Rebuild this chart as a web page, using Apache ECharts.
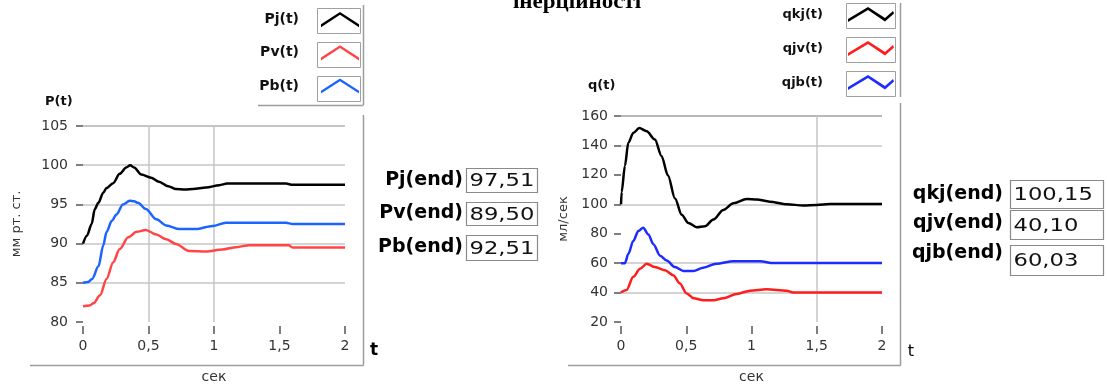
<!DOCTYPE html>
<html>
<head>
<meta charset="utf-8">
<script src="https://cdn.jsdelivr.net/npm/echarts@6/dist/echarts.min.js"></script>
<style>
  html, body { margin: 0; padding: 0; background: #fff; }
  #chart { width: 1107px; height: 389px; }
</style>
</head>
<body>
<div id="chart"></div>
<script>
// ---- Pressure traces, mm Hg (left graph) ----
const pjT = [0, 0.03, 0.066, 0.09, 0.117, 0.155, 0.18, 0.23, 0.28, 0.33, 0.36, 0.39, 0.445, 0.52, 0.58, 0.65, 0.71, 0.78, 0.84, 0.94, 1.04, 1.1, 1.55, 1.6];
const pjV = [90.0, 91.0, 92.5, 94.4, 95.2, 96.5, 97.1, 97.7, 98.9, 99.7, 100.0, 99.7, 98.8, 98.4, 97.9, 97.3, 96.95, 96.9, 96.95, 97.15, 97.45, 97.65, 97.65, 97.51];
const pvT = [0, 0.05, 0.08, 0.13, 0.18, 0.23, 0.28, 0.345, 0.41, 0.48, 0.56, 0.636, 0.71, 0.81, 0.94, 1.065, 1.17, 1.27, 1.57, 1.6];
const pvV = [82.0, 82.1, 82.4, 83.4, 85.5, 87.6, 89.3, 90.8, 91.5, 91.75, 91.15, 90.55, 89.95, 89.05, 89.0, 89.25, 89.55, 89.8, 89.8, 89.5];
const pbT = [0, 0.04, 0.07, 0.118, 0.155, 0.18, 0.22, 0.255, 0.305, 0.356, 0.39, 0.42, 0.48, 0.56, 0.636, 0.737, 0.86, 0.99, 1.09, 1.55, 1.6];
const pbV = [85.0, 85.1, 85.5, 87.1, 89.8, 91.5, 92.9, 93.7, 95.0, 95.45, 95.4, 95.2, 94.4, 93.1, 92.3, 91.85, 91.85, 92.25, 92.65, 92.65, 92.51];

// ---- Flow traces, ml/s (right graph) ----
const qkjT = [0, 0.005, 0.03, 0.056, 0.094, 0.14, 0.197, 0.26, 0.31, 0.36, 0.414, 0.465, 0.516, 0.58, 0.644, 0.708, 0.784, 0.861, 0.964, 1.04, 1.14, 1.27, 1.397, 1.5, 1.6];
const qkjV = [100, 108.4, 126.2, 141.8, 148.4, 151.8, 149.6, 144, 132.9, 119.6, 104, 92.9, 87.3, 84.4, 85.1, 89.6, 96.2, 100.7, 103.6, 103.3, 101.8, 100, 99.2, 99.5, 100.15];
const qjvT = [0, 0.043, 0.094, 0.146, 0.197, 0.26, 0.337, 0.4, 0.452, 0.5, 0.556, 0.633, 0.71, 0.784, 0.886, 0.99, 1.115, 1.27, 1.32];
const qjvV = [40, 41.8, 50.7, 56.2, 59.6, 57.3, 55.1, 51.8, 46.2, 39.6, 36.2, 34.7, 34.7, 36.2, 39.1, 41.3, 42.2, 41.3, 40.1];
const qjbT = [0, 0.03, 0.056, 0.094, 0.133, 0.17, 0.21, 0.248, 0.3, 0.35, 0.414, 0.478, 0.555, 0.63, 0.73, 0.86, 1.065, 1.17];
const qjbV = [60.0, 60.0, 66.2, 75.1, 81.8, 84, 79.5, 72.9, 65.1, 61.8, 57.3, 54.7, 54.7, 56.9, 59.6, 61.3, 61.3, 60.03];

// ---- Final values shown in the indicators ----
const pNames = ['Pj(t)', 'Pv(t)', 'Pb(t)'];
const pEndNames = ['Pj(end)', 'Pv(end)', 'Pb(end)'];
const pEnd = [97.51, 89.50, 92.51];
const qNames = ['qkj(t)', 'qjv(t)', 'qjb(t)'];
const qEndNames = ['qkj(end)', 'qjv(end)', 'qjb(end)'];
const qEnd = [100.15, 40.10, 60.03];

// ---- Axis ticks ----
const tTicks = [0, 0.5, 1, 1.5, 2];
const pTicks = [80, 85, 90, 95, 100, 105];
const qTicks = [20, 40, 60, 80, 100, 120, 140, 160];

const T_END = tTicks[tTicks.length - 1];
const pair = (t, v, end) => t.map((x, i) => [x, v[i]]).concat([[T_END, end]]);
const comma = v => String(v).replace('.', ',');
const fix2 = v => v.toFixed(2).replace('.', ',');

const FONT = 'DejaVu Sans';
const GRID = '#c6c6c6';
const NONE = 'rgba(0,0,0,0)';
const FRAME = '#9c9c9c';

const peakIcon = 'path://M0,13L20,0L40,13L40,16L20,3L0,16Z';
const zigIcon = 'path://M0,12L20,0L37,11L45,4L46,6.5L37,14.5L20,3L0,15Z';

function xAxisCfg(gridIndex, gridColors) {
  return {
    type: 'value', gridIndex, min: tTicks[0], max: T_END, interval: 0.5, offset: 4,
    axisLine: { show: false },
    axisTick: { length: 8, lineStyle: { color: '#555', width: 1.5 } },
    axisLabel: { margin: 13, fontFamily: FONT, fontSize: 14, color: '#333', formatter: comma },
    splitLine: { show: true, lineStyle: { color: gridColors, width: 1.5 } },
    name: 'сек', nameLocation: 'middle', nameGap: 44,
    nameTextStyle: { fontFamily: FONT, fontSize: 14, color: '#333' }
  };
}

function yAxisCfg(gridIndex, ticks, step, gridColors, name, gap, offset, margin) {
  return {
    type: 'value', gridIndex, min: ticks[0], max: ticks[ticks.length - 1], interval: step, offset,
    axisLine: { show: false },
    axisTick: { length: 7, lineStyle: { color: '#555', width: 1.5 } },
    axisLabel: { margin, fontFamily: FONT, fontSize: 14, color: '#333' },
    splitLine: { show: true, lineStyle: { color: gridColors, width: 1.5 } },
    name, nameLocation: 'middle', nameRotate: 90, nameGap: gap,
    nameTextStyle: { fontFamily: FONT, fontSize: 13, color: '#333' }
  };
}

function lineSeries(name, data, color, xi) {
  return {
    type: 'line', name, data, xAxisIndex: xi, yAxisIndex: xi,
    symbol: 'none', smooth: 0.3, smoothMonotone: 'x',
    lineStyle: { color, width: 2.5 }, itemStyle: { color },
    emphasis: { disabled: true }
  };
}

// Indicator column: bold caption, framed value box
function indicators(names, values, labelRight, boxX, boxW, rows) {
  const out = [];
  rows.forEach((r, i) => {
    out.push({
      type: 'text', x: labelRight, y: r.cy,
      style: { text: names[i], align: 'right', verticalAlign: 'middle',
               font: 'bold 19px "DejaVu Sans"', fill: '#000' }
    });
    out.push({
      type: 'rect', shape: { x: boxX, y: r.top, width: boxW, height: r.h },
      style: { fill: '#fff', stroke: '#8a8a8a', lineWidth: 1.2 }
    });
    out.push({
      type: 'text', x: boxX + 3, y: r.top + r.h / 2 + 1, scaleX: 1.26,
      style: { text: fix2(values[i]), align: 'left', verticalAlign: 'middle',
               font: '18px "DejaVu Sans"', fill: '#111' }
    });
  });
  return out;
}

const frameLines = [
  [[363.5, 5], [363.5, 105]], [[258, 105.5], [363.5, 105.5]],
  [[363.5, 115], [363.5, 365.5]], [[30, 365.5], [363.5, 365.5]],
  [[900.5, 3], [900.5, 97]], [[900.5, 103], [900.5, 365.5]], [[568, 365.5], [900.5, 365.5]]
].map(pts => ({ type: 'polyline', shape: { points: pts }, style: { stroke: FRAME, lineWidth: 1.5, fill: null }, silent: true }));

const swatches = [];
[0, 1, 2].forEach(i => {
  swatches.push({ type: 'rect', shape: { x: 317.5, y: 8.5 + i * 34, width: 43, height: 25 },
                  style: { fill: 'none', stroke: '#a0a0a0', lineWidth: 1 }, z: -1 });
  swatches.push({ type: 'rect', shape: { x: 846.5, y: 3.5 + i * 34, width: 49, height: 25 },
                  style: { fill: 'none', stroke: '#a0a0a0', lineWidth: 1 }, z: -1 });
});

const chart = echarts.init(document.getElementById('chart'), null, { renderer: 'canvas' });

chart.setOption({
  animation: false,
  backgroundColor: '#fff',
  title: [
    { text: 'P(t)', left: 45, top: 95, padding: 0,
      textStyle: { fontFamily: FONT, fontWeight: 'bold', fontSize: 13, color: '#111' } },
    { text: 'q(t)', left: 588, top: 79, padding: 0,
      textStyle: { fontFamily: FONT, fontWeight: 'bold', fontSize: 13, color: '#111' } }
  ],
  legend: [
    { data: pNames, orient: 'vertical', align: 'right', right: 748, top: 12, padding: 0,
      itemGap: 18, itemWidth: 38, itemHeight: 16, icon: peakIcon, selectedMode: false,
      itemStyle: { borderWidth: 0 },
      textStyle: { fontFamily: FONT, fontWeight: 'bold', fontSize: 14, color: '#111', padding: [0, 17, 0, 0] } },
    { data: qNames, orient: 'vertical', align: 'right', right: 213, top: 7, padding: 0,
      itemGap: 19, itemWidth: 46, itemHeight: 15, icon: zigIcon, selectedMode: false,
      itemStyle: { borderWidth: 0 },
      textStyle: { fontFamily: FONT, fontWeight: 'bold', fontSize: 13, color: '#111', padding: [0, 20, 0, 0] } }
  ],
  grid: [
    { left: 83, top: 126, width: 262, height: 200 },
    { left: 621, top: 116, width: 261, height: 210 }
  ],
  xAxis: [
    xAxisCfg(0, [NONE, GRID, GRID, NONE, NONE]),
    xAxisCfg(1, [NONE, NONE, NONE, GRID, NONE])
  ],
  yAxis: [
    yAxisCfg(0, pTicks, 5, [NONE, GRID, GRID, GRID, GRID, '#b0b0b0'], 'мм рт. ст.', 57, 3, 12),
    yAxisCfg(1, qTicks, 20, [NONE, GRID, GRID, NONE, GRID, NONE, GRID, '#a0a0a0'], 'мл/сек', 47, 4, 9)
  ],
  series: [
    lineSeries(pNames[0], pair(pjT, pjV, pEnd[0]), '#000000', 0),
    lineSeries(pNames[1], pair(pvT, pvV, pEnd[1]), '#ff4545', 0),
    lineSeries(pNames[2], pair(pbT, pbV, pEnd[2]), '#1c64ff', 0),
    lineSeries(qNames[0], pair(qkjT, qkjV, qEnd[0]), '#000000', 1),
    lineSeries(qNames[1], pair(qjvT, qjvV, qEnd[1]), '#ff1c1c', 1),
    lineSeries(qNames[2], pair(qjbT, qjbV, qEnd[2]), '#1c2cff', 1)
  ],
  graphic: [
    { type: 'text', x: 577, y: 3, scaleX: 1.15,
      style: { text: 'інерційності', align: 'center', verticalAlign: 'middle',
               font: 'bold 20px "Liberation Serif"', fill: '#000' } },
    { type: 'text', x: 374, y: 351,
      style: { text: 't', align: 'center', verticalAlign: 'middle', font: 'bold 17px "DejaVu Sans"', fill: '#000' } },
    { type: 'text', x: 911, y: 352,
      style: { text: 't', align: 'center', verticalAlign: 'middle', font: '16px "DejaVu Sans"', fill: '#000' } },
    ...frameLines,
    ...swatches,
    ...indicators(pEndNames, pEnd, 463, 466.5, 71, [
      { top: 168.5, h: 24, cy: 180 }, { top: 202.5, h: 23, cy: 213.5 }, { top: 235.5, h: 25, cy: 247.5 }
    ]),
    ...indicators(qEndNames, qEnd, 1003, 1010.5, 93, [
      { top: 180.5, h: 28, cy: 194 }, { top: 210.5, h: 29, cy: 223 }, { top: 245.5, h: 30, cy: 253 }
    ])
  ]
});
</script>
</body>
</html>
